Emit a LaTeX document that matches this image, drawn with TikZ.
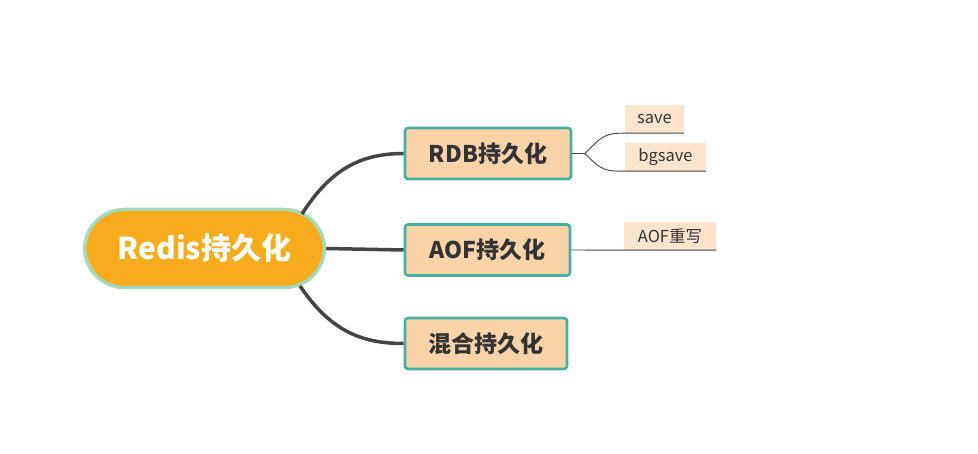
\documentclass[tikz,border=0pt]{standalone}
\usepackage{fontspec}
\setmainfont{Noto Sans CJK SC}
\definecolor{rootfill}{HTML}{F6AC1D}
\definecolor{rootline}{HTML}{A9D8B8}
\definecolor{boxfill}{HTML}{FAD3A9}
\definecolor{boxline}{HTML}{44B0A2}
\definecolor{leaffill}{HTML}{FDE4CD}
\definecolor{conn}{HTML}{444444}
\definecolor{txt}{HTML}{333333}
\tikzset{
  rootnode/.style={draw=rootline, line width=3.5pt, fill=rootfill, rounded corners=40pt,
    minimum width=240pt, minimum height=78pt, text=white, font=\fontsize{30}{36}\selectfont\bfseries},
  mainbox/.style={draw=boxline, line width=2.6pt, fill=boxfill, rounded corners=3pt,
    minimum height=51pt, text=txt, font=\fontsize{23}{28}\selectfont\bfseries},
  leaf/.style={fill=leaffill, text=txt, minimum height=28pt, inner sep=0pt, font=\fontsize{16.5}{20}\selectfont},
  thick conn/.style={draw=conn, line width=3.5pt},
  thin conn/.style={draw=conn, line width=0.9pt}
}
\begin{document}
\begin{tikzpicture}[x=1pt,y=-1pt]
\useasboundingbox (0,0) rectangle (978,454);
\node[rootnode] (root) at (204.5,248.5) {Redis持久化};
\node[mainbox, minimum width=166pt] (rdb) at (488,153.5) {RDB持久化};
\node[mainbox, minimum width=165pt] (aof) at (487.5,250) {AOF持久化};
\node[mainbox, minimum width=162pt] (mix) at (486,343.5) {混合持久化};
\node[leaf, minimum width=59pt] (save) at (654.5,119) {save};
\node[leaf, minimum width=81pt] (bgsave) at (665.5,157) {bgsave};
\node[leaf, minimum width=92pt] (aofrw) at (670,236) {AOF重写};
% root connectors
\coordinate (r1) at (302,214);
\coordinate (r3) at (300,286);
\draw[thick conn] (r1) .. controls (330,170) and (360,153.5) .. (rdb.west);
\draw[thick conn] (root.east) -- (aof.west);
\draw[thick conn] (r3) .. controls (330,330) and (360,343.5) .. (mix.west);
% leaf connectors
\coordinate (fork) at (585,153.5);
\draw[thin conn] (rdb.east) -- (fork);
\draw[thin conn] (fork) .. controls (602,136) and (605,133) .. (save.south west) -- (save.south east);
\draw[thin conn] (fork) .. controls (602,171) and (605,171) .. (bgsave.south west) -- (bgsave.south east);
\draw[thin conn] (aof.east) -- (aofrw.south west) -- (aofrw.south east);
\end{tikzpicture}
\end{document}
